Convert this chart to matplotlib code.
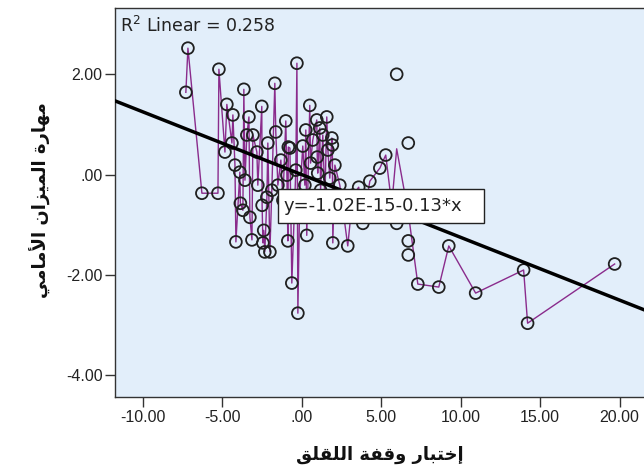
import matplotlib
matplotlib.use("Agg")
import matplotlib.pyplot as plt
import numpy as np
from matplotlib.patches import Rectangle

# ---------------- data ----------------
x_vals = [-7.30, -7.17, -6.29, -5.28, -5.22, -4.84, -4.72, -4.40, -4.34, -4.21,
          -4.15, -3.90, -3.87, -3.71, -3.65, -3.58, -3.46, -3.33, -3.27, -3.14,
          -3.08, -2.83, -2.77, -2.52, -2.50, -2.45, -2.40, -2.33, -2.20, -2.14,
          -2.01, -1.89, -1.70, -1.64, -1.51, -1.32, -1.19, -1.01, -0.94, -0.88,
          -0.85, -0.75, -0.63, -0.38, -0.31, -0.25, -0.13, 0.06, 0.19, 0.25,
          0.31, 0.50, 0.55, 0.69, 0.94, 0.97, 1.00, 1.13, 1.18, 1.32,
          1.45, 1.57, 1.64, 1.76, 1.89, 1.92, 1.95, 2.08, 2.39, 2.89,
          3.21, 3.58, 3.84, 4.28, 4.91, 5.28, 5.66, 5.97, 5.97, 6.70,
          6.70, 6.70, 7.30, 8.62, 9.25, 10.94, 13.96, 14.21, 19.69]
y_vals = [1.64, 2.52, -0.37, -0.37, 2.10, 0.45, 1.40, 0.63, 1.19, 0.19,
          -1.34, 0.05, -0.57, -0.71, 1.70, -0.11, 0.79, 1.15, -0.85, -1.30,
          0.79, 0.45, -0.21, 1.36, -0.61, -1.36, -1.11, -1.54, -0.45, 0.63,
          -1.54, -0.31, 1.82, 0.85, -0.21, 0.29, -0.51, 1.07, -0.01, -1.32,
          0.55, 0.53, -2.16, 0.09, 2.22, -2.76, -0.41, 0.57, -0.21, 0.89,
          -1.21, 1.38, 0.23, 0.69, 1.09, 0.35, 0.03, 0.93, -0.31, 0.79,
          -0.51, 1.15, 0.49, -0.07, 0.73, 0.59, -1.36, 0.19, -0.21, -1.42,
          -0.41, -0.25, -0.97, -0.13, 0.13, 0.39, -0.60, 2.00, -0.97, 0.63,
          -1.32, -1.60, -2.18, -2.24, -1.42, -2.36, -1.90, -2.96, -1.78]

fit_intercept = -1.02e-15
fit_slope = -0.125
r_squared = 0.258
fit_label = "y=-1.02E-15-0.13*x"

x_ticks = [-10, -5, 0, 5, 10, 15, 20]
x_tick_labels = ["-10.00", "-5.00", ".00", "5.00", "10.00", "15.00", "20.00"]
y_ticks = [-4, -2, 0, 2]
y_tick_labels = ["-4.00", "-2.00", ".00", "2.00"]

x_label = "إختبار وقفة اللقلق"
y_label = "مهارة الميزان الأمامي"

# ------------- Arabic shaping (matplotlib has no complex text layout) -------------
AR_FORMS = {
    '\u0627': ('\uFE8D', '\uFE8E', None, None),
    '\u0623': ('\uFE83', '\uFE84', None, None),
    '\u0625': ('\uFE87', '\uFE88', None, None),
    '\u0622': ('\uFE81', '\uFE82', None, None),
    '\u0628': ('\uFE8F', '\uFE90', '\uFE91', '\uFE92'),
    '\u0629': ('\uFE93', '\uFE94', None, None),
    '\u062A': ('\uFE95', '\uFE96', '\uFE97', '\uFE98'),
    '\u062E': ('\uFEA5', '\uFEA6', '\uFEA7', '\uFEA8'),
    '\u0631': ('\uFEAD', '\uFEAE', None, None),
    '\u0632': ('\uFEAF', '\uFEB0', None, None),
    '\u0641': ('\uFED1', '\uFED2', '\uFED3', '\uFED4'),
    '\u0642': ('\uFED5', '\uFED6', '\uFED7', '\uFED8'),
    '\u0644': ('\uFEDD', '\uFEDE', '\uFEDF', '\uFEE0'),
    '\u0645': ('\uFEE1', '\uFEE2', '\uFEE3', '\uFEE4'),
    '\u0646': ('\uFEE5', '\uFEE6', '\uFEE7', '\uFEE8'),
    '\u0647': ('\uFEE9', '\uFEEA', '\uFEEB', '\uFEEC'),
    '\u0648': ('\uFEED', '\uFEEE', None, None),
    '\u064A': ('\uFEF1', '\uFEF2', '\uFEF3', '\uFEF4'),
}
LAM_ALEF = {'\u0627': ('\uFEFB', '\uFEFC'), '\u0623': ('\uFEF7', '\uFEF8'),
            '\u0625': ('\uFEF9', '\uFEFA'), '\u0622': ('\uFEF5', '\uFEF6')}


def shape_ar(text):
    out = []
    chars = list(text)
    n = len(chars)
    i = 0
    prev_joins = False
    while i < n:
        c = chars[i]
        if c not in AR_FORMS:
            out.append(c)
            prev_joins = False
            i += 1
            continue
        if c == '\u0644' and i + 1 < n and chars[i + 1] in LAM_ALEF:
            iso, fin = LAM_ALEF[chars[i + 1]]
            out.append(fin if prev_joins else iso)
            prev_joins = False
            i += 2
            continue
        nxt = chars[i + 1] if i + 1 < n else None
        iso, fin, ini, med = AR_FORMS[c]
        can_next = ini is not None and nxt in AR_FORMS
        if prev_joins and can_next:
            out.append(med)
        elif prev_joins:
            out.append(fin)
        elif can_next:
            out.append(ini)
        else:
            out.append(iso)
        prev_joins = can_next
        i += 1
    return ''.join(reversed(out))


# ---------------- figure ----------------
plt.rcParams['axes.unicode_minus'] = False
fig = plt.figure(figsize=(6.44, 4.70), dpi=100)
W, H = 644, 470
ax_left, ax_right, ax_top, ax_bottom = 115, 645, 8, 397
ax = fig.add_axes([ax_left / W, 1 - ax_bottom / H, (ax_right - ax_left) / W, (ax_bottom - ax_top) / H])
ax.set_facecolor('#E2EEFA')

ax.set_xlim(-11.76, 21.6)
ax.set_ylim(-4.43, 3.32)

xs = np.array(x_vals)
ys = np.array(y_vals)

# interpolation line through the points in x order (mean at repeated x)
ux = np.unique(xs)
uy = np.array([ys[xs == u].mean() for u in ux])
ax.plot(ux, uy, color='#8A2B8C', lw=1.0, zorder=2)

ax.scatter(xs, ys, s=72, facecolors='none', edgecolors='#202020', linewidths=1.3, zorder=3)

# fit line
xl = np.array(ax.get_xlim())
ax.plot(xl, fit_intercept + fit_slope * xl, color='black', lw=2.5, zorder=4)

# fit equation label
ax.add_patch(Rectangle((0.308, 0.447), 0.388, 0.087, transform=ax.transAxes,
                       facecolor='white', edgecolor='#222222', lw=1.0, zorder=5))
ax.text(0.318, 0.491, fit_label, transform=ax.transAxes,
        ha='left', va='center', fontsize=13, family='DejaVu Sans', color='#222222', zorder=6)

ax.text(0.01, 0.955, "R$^2$ Linear = %.3f" % r_squared, transform=ax.transAxes,
        ha='left', va='center', fontsize=12.5, family='DejaVu Sans', color='#222222', zorder=6)

ax.set_xticks(x_ticks)
ax.set_xticklabels(x_tick_labels)
ax.set_yticks(y_ticks)
ax.set_yticklabels(y_tick_labels)
ax.tick_params(direction='out', length=7, width=1.0, color='#333333', pad=2,
               labelsize=11.5, labelcolor='#222222')
for lbl in ax.get_xticklabels() + ax.get_yticklabels():
    lbl.set_family('Liberation Sans')

for s in ax.spines.values():
    s.set_color('#333333')
    s.set_linewidth(1.0)

fig.text(380 / W, 1 - 455 / H, shape_ar(x_label), ha='center', va='center',
         fontsize=13, fontweight='bold', family='DejaVu Sans', color='#111111')
fig.text(40 / W, 1 - 200 / H, shape_ar(y_label), ha='center', va='center',
         rotation=90, fontsize=13, fontweight='bold', family='DejaVu Sans', color='#111111')

fig.savefig('out.png', dpi=100)
